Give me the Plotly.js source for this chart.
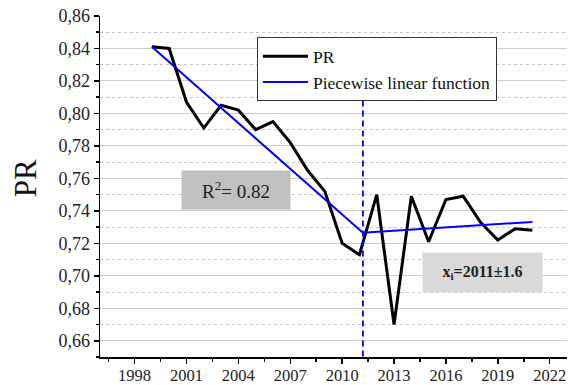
<!DOCTYPE html>
<html>
<head>
<meta charset="utf-8">
<script src="https://cdn.plot.ly/plotly-3.0.1.min.js"></script>
<style>
  html, body { margin: 0; padding: 0; background: #fff; }
  #chart { width: 578px; height: 385px; }
</style>
</head>
<body>
<div id="chart"></div>
<script>
// Annual performance ratio (PR)
const years = [1999, 2000, 2001, 2002, 2003, 2004, 2005, 2006, 2007, 2008, 2009, 2010,
               2011, 2012, 2013, 2014, 2015, 2016, 2017, 2018, 2019, 2020, 2021];
const prValues = [0.841, 0.840, 0.807, 0.791, 0.805, 0.802, 0.790, 0.795, 0.782, 0.765, 0.752, 0.720,
                  0.713, 0.750, 0.670, 0.749, 0.721, 0.747, 0.749, 0.733, 0.722, 0.729, 0.728];

// Two-segment piecewise linear fit: start, breakpoint, end
const fitYears = [1999, 2011.2, 2021];
const fitValues = [0.841, 0.7265, 0.7332];

// Breakpoint estimate and its uncertainty
const breakYear = 2011.2;
const breakErr = 1.6;
const breakLineSpan = [0.808, 0.65];
const rSquared = 0.82;

// Axis ticks
const xTickVals = [1998, 2001, 2004, 2007, 2010, 2013, 2016, 2019, 2022];

const serif = 'Liberation Serif';

const traces = [
  {
    x: years, y: prValues, name: 'PR', type: 'scatter', mode: 'lines',
    line: { color: '#000000', width: 3 }
  },
  {
    x: fitYears, y: fitValues, name: 'Piecewise linear function', type: 'scatter', mode: 'lines',
    line: { color: '#0000ff', width: 2 }
  },
  {
    x: [breakYear, breakYear], y: breakLineSpan, type: 'scatter', mode: 'lines',
    showlegend: false, hoverinfo: 'skip',
    line: { color: '#0000ff', width: 1.8, dash: '6px,4px' }
  }
];

const layout = {
  width: 578, height: 385,
  margin: { l: 100, r: 11, t: 16, b: 28, pad: 0 },
  paper_bgcolor: '#ffffff', plot_bgcolor: '#ffffff',
  separators: ', ',
  font: { family: serif, color: '#222222', size: 17 },
  showlegend: true,
  legend: {
    x: 0.336, y: 0.9375, xanchor: 'left', yanchor: 'top',
    bgcolor: '#ffffff', bordercolor: '#333333', borderwidth: 1,
    font: { family: serif, size: 17.5, color: '#111111' },
    itemwidth: 45,
    tracegroupgap: 0
  },
  xaxis: {
    range: [1996, 2023],
    tickmode: 'array', tickvals: xTickVals, ticktext: xTickVals.map(String),
    ticks: 'outside', ticklen: 5, tickwidth: 1.5, tickcolor: '#000',
    ticklabelstandoff: -2,
    minor: { dtick: 1.5, tick0: 1996.5, ticks: 'outside', ticklen: 3, tickwidth: 1.5, tickcolor: '#000', showgrid: false },
    showline: true, linecolor: '#000', linewidth: 1.5,
    showgrid: false, zeroline: false,
    tickfont: { family: serif, size: 16.5, color: '#222' }
  },
  yaxis: {
    range: [0.65, 0.86],
    tick0: 0.66, dtick: 0.02, tickformat: '.2f',
    ticks: 'outside', ticklen: 5, tickwidth: 1.5, tickcolor: '#000',
    minor: { dtick: 0.01, ticks: 'outside', ticklen: 3, tickwidth: 1.5, tickcolor: '#000',
             showgrid: true, gridcolor: '#c8c8c8', gridwidth: 1, griddash: 'dot' },
    showline: true, linecolor: '#000', linewidth: 1.5,
    showgrid: true, gridcolor: '#cccccc', gridwidth: 1,
    zeroline: false,
    tickfont: { family: serif, size: 18, color: '#222' }
  },
  annotations: [
    {
      text: 'PR', xref: 'paper', yref: 'paper', x: -0.158, y: 0.525,
      textangle: -90, showarrow: false, xanchor: 'center', yanchor: 'middle',
      font: { family: serif, size: 31, color: '#111' }
    },
    {
      text: 'R<sup>2</sup>= ' + rSquared.toFixed(2),
      xref: 'paper', yref: 'paper', x: 0.291, y: 0.490,
      xanchor: 'center', yanchor: 'middle', showarrow: false,
      width: 104, height: 34, borderpad: 2, bgcolor: '#c0c0c0',
      font: { family: serif, size: 19, color: '#222' }
    },
    {
      text: '<b>x<sub>i</sub>=' + Math.round(breakYear) + '±' + breakErr + '</b>',
      xref: 'paper', yref: 'paper', x: 0.818, y: 0.248,
      xanchor: 'center', yanchor: 'middle', showarrow: false,
      width: 115, height: 35, borderpad: 2, bgcolor: '#d9d9d9',
      font: { family: serif, size: 16, color: '#222' }
    }
  ]
};

Plotly.newPlot('chart', traces, layout, { displayModeBar: false, staticPlot: true });
</script>
</body>
</html>
